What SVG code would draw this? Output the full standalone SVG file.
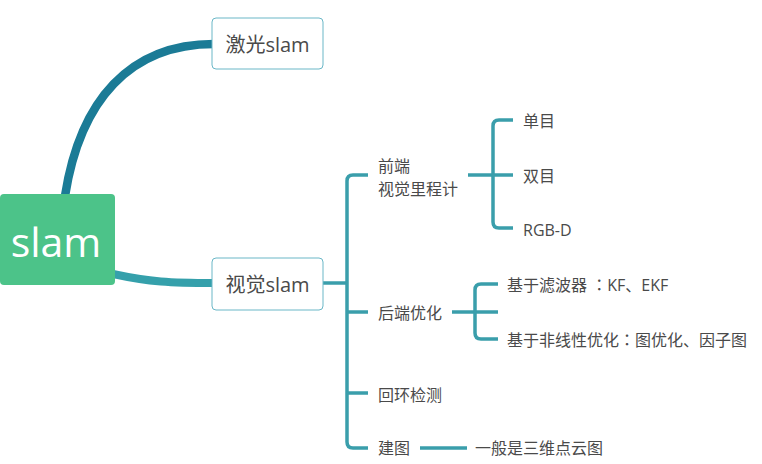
<svg xmlns="http://www.w3.org/2000/svg" width="762" height="464" viewBox="0 0 762 464">
<style>
.t{font-family:"Open Sans","Noto Sans CJK SC",sans-serif;fill:#4a4a4a}
.s{font-size:16px}
.m{font-size:20px}
.c{font-family:"Noto Sans CJK JP",sans-serif}
.box{fill:#ffffff;stroke:#6ab7c7;stroke-width:1}
.ln{fill:none;stroke:#3a9eab;stroke-width:3.5;stroke-linecap:butt}
</style>
<rect width="762" height="464" fill="#ffffff"/>
<g id="connectors">
<path d="M65,196 C80,100 130,44 214,44" fill="none" stroke="#1b7b96" stroke-width="8.5"/>
<path d="M113,274 C150,282 170,283 214,283" fill="none" stroke="#35a0ab" stroke-width="8"/>
<path class="ln" d="M323,283 H347"/>
<path class="ln" d="M368,175 H353 Q347,175 347,181 V442 Q347,448 353,448 H368"/>
<path class="ln" d="M347,312 H368 M347,393 H368"/>
<path class="ln" d="M468,175 H513"/>
<path class="ln" d="M513,120 H499 Q493,120 493,126 V222 Q493,228 499,228 H513"/>
<path class="ln" d="M452,312 H498"/>
<path class="ln" d="M498,284 H481 Q475,284 475,290 V333 Q475,339 481,339 H498"/>
<path class="ln" d="M420,448 H467"/>
</g>
<g id="root">
<rect x="0" y="194" width="115" height="91" rx="4" fill="#4cc389"/>
<text x="56" y="257" text-anchor="middle" font-family="Open Sans, sans-serif" font-size="41" fill="#ffffff">slam</text>
</g>
<g id="laser">
<rect class="box" x="212" y="18" width="111" height="51" rx="4"/>
<text class="t m" x="267.5" y="52" text-anchor="middle">激光slam</text>
</g>
<g id="visual">
<rect class="box" x="212" y="258" width="111" height="52" rx="4"/>
<text class="t m" x="267.5" y="292" text-anchor="middle">视觉slam</text>
</g>
<g id="frontend">
<text class="t s" x="378" y="171.5">前端</text>
<text class="t s" x="378" y="195">视觉里程计</text>
</g>
<g id="mono"><text class="t s" x="523" y="127">单目</text></g>
<g id="stereo"><text class="t s" x="523" y="182">双目</text></g>
<g id="rgbd"><text class="t s" x="523" y="236">RGB-D</text></g>
<g id="backend"><text class="t s" x="378" y="318.5">后端优化</text></g>
<g id="filter"><text class="t s" x="507" y="291">基于滤波器 <tspan class="c">：</tspan>KF、EKF</text></g>
<g id="nonlinear"><text class="t s" x="507" y="345.5">基于非线性优化<tspan class="c">：</tspan>图优化、因子图</text></g>
<g id="loop"><text class="t s" x="378" y="400.5">回环检测</text></g>
<g id="mapping"><text class="t s" x="378" y="453.5">建图</text></g>
<g id="pointcloud"><text class="t s" x="475" y="453.5">一般是三维点云图</text></g>
</svg>
